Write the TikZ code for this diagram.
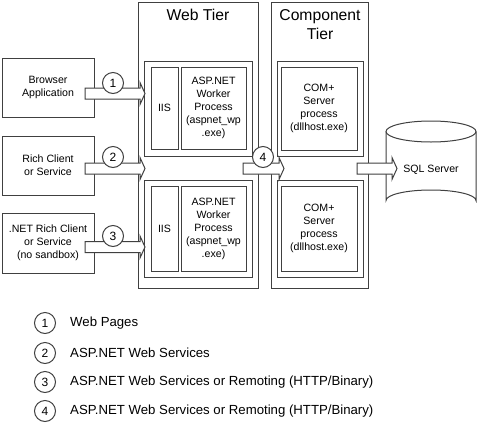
\documentclass[tikz,border=0pt]{standalone}
\usepackage{fontspec}
\setmainfont{Liberation Sans}
\usetikzlibrary{calc}
\definecolor{lc}{HTML}{404040}
\tikzset{
  box/.style={draw=lc, line width=1pt, fill=white, inner sep=0pt, outer sep=0pt, anchor=north west, align=center, font=\fontsize{10.6}{13}\selectfont},
  num/.style={circle, draw=lc, line width=1pt, fill=white, minimum size=21pt, inner sep=0pt, font=\fontsize{12}{14}\selectfont},
  title/.style={font=\fontsize{15.7}{20}\selectfont, align=center},
  legtext/.style={anchor=west, font=\fontsize{13.2}{16}\selectfont, inner sep=0pt},
  barrow/.style={draw=lc, line width=1pt, fill=white, line join=miter}
}
\newcommand\blockarrow[2]{%
  \path[barrow] let \p1=(#1), \p2=(#2) in
    (\x1,\y1+5.5pt) -- (\x2-5pt,\y1+5.5pt) -- (\x2-5pt,\y1+11pt) -- (\x2,\y1)
    -- (\x2-5pt,\y1-11pt) -- (\x2-5pt,\y1-5.5pt) -- (\x1,\y1-5.5pt) -- cycle;}
\begin{document}
\begin{tikzpicture}[x=1pt,y=-1pt]
\useasboundingbox (0,0) rectangle (477,429);
% tiers
\node[box, minimum width=120pt, minimum height=286pt] (web) at (138,2) {};
\node[title] (webt) at (198,15) {Web Tier};
\node[box, minimum width=97pt, minimum height=286pt] (comp) at (271,2) {};
\node[title] (compt) at (320,25) {Component\\[-1pt]Tier};
% web tier panels
\node[box, minimum width=108pt, minimum height=95pt] (wp1) at (144,61) {};
\node[box, minimum width=27pt, minimum height=82pt] (iis1) at (151,67) {IIS};
\node[box, minimum width=65pt, minimum height=82pt] (asp1) at (181,67) {ASP.NET\\Worker\\Process\\(aspnet\_wp\\.exe)};
\node[box, minimum width=108pt, minimum height=97pt] (wp2) at (144,180) {};
\node[box, minimum width=27pt, minimum height=85pt] (iis2) at (151,186) {IIS};
\node[box, minimum width=65pt, minimum height=85pt] (asp2) at (181,186) {ASP.NET\\Worker\\Process\\(aspnet\_wp\\.exe)};
% component tier panels
\node[box, minimum width=86pt, minimum height=95pt] (cp1) at (277,61) {};
\node[box, minimum width=76pt, minimum height=83pt] (com1) at (281,67) {COM+\\Server\\process\\(dllhost.exe)};
\node[box, minimum width=86pt, minimum height=97pt] (cp2) at (277,180) {};
\node[box, minimum width=76pt, minimum height=85pt] (com2) at (281,186) {COM+\\Server\\process\\(dllhost.exe)};
% clients
\node[box, minimum width=92pt, minimum height=59pt] (browser) at (2,58) {Browser\\Application};
\node[box, minimum width=92pt, minimum height=59pt] (rich) at (2,136) {Rich Client\\or Service};
\node[box, minimum width=92pt, minimum height=60pt] (netrich) at (2,213) {.NET Rich Client\\or Service\\(no sandbox)};
% database
\draw[lc, line width=1pt, fill=white] (386,131.5) -- (386,200.5) arc[start angle=180, end angle=360, x radius=45, y radius=10.5] -- (476,131.5);
\draw[lc, line width=1pt, fill=white] (431,131.5) ellipse[x radius=45, y radius=10.5];
\node[font=\fontsize{10.6}{13}\selectfont] (sql) at (431,170) {SQL Server};
% arrow endpoints
\coordinate (s1) at (85,93.5);  \coordinate (e1) at (145,93.5);
\coordinate (s2) at (85,168.5); \coordinate (e2) at (145,168.5);
\coordinate (s3) at (85,247);   \coordinate (e3) at (145,247);
\coordinate (s4) at (243,168.5);\coordinate (e4) at (284,168.5);
\coordinate (s5) at (357,168.5);\coordinate (e5) at (397,168.5);
\blockarrow{s1}{e1}
\blockarrow{s2}{e2}
\blockarrow{s3}{e3}
\blockarrow{s4}{e4}
\blockarrow{s5}{e5}
% numbers
\node[num] (n1) at (113,83) {1};
\node[num] (n2) at (113,157) {2};
\node[num] (n3) at (113,236) {3};
\node[num] (n4) at (263,157) {4};
% legend
\node[num] (l1) at (45,323) {1};
\node[num] (l2) at (45,353) {2};
\node[num] (l3) at (45,382) {3};
\node[num] (l4) at (45,411) {4};
\node[legtext] (t1) at (70,323) {Web Pages};
\node[legtext] (t2) at (70,353) {ASP.NET Web Services};
\node[legtext] (t3) at (70,382) {ASP.NET Web Services or Remoting (HTTP/Binary)};
\node[legtext] (t4) at (70,411) {ASP.NET Web Services or Remoting (HTTP/Binary)};
\end{tikzpicture}
\end{document}
